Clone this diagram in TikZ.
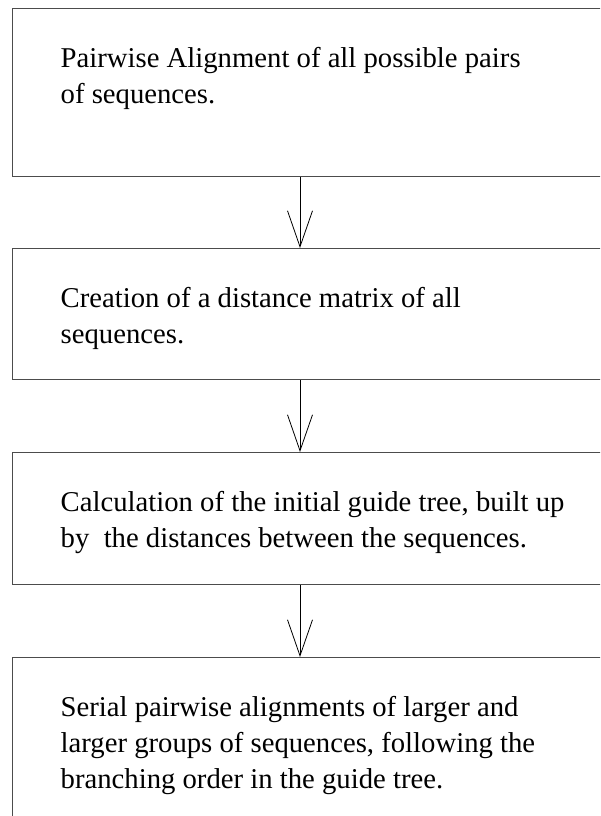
\documentclass[tikz,border=0pt]{standalone}
\usepackage{fontspec}
\setmainfont{Liberation Serif}
\usetikzlibrary{arrows.meta}
\begin{document}
\begin{tikzpicture}[x=1pt,y=1pt,
  stepbox/.style={draw=black!70, line width=1.3pt, rectangle, minimum width=640pt, anchor=north west, inner sep=0pt},
  steptext/.style={anchor=north west, inner sep=0pt, align=left, text width=530pt, font=\fontsize{28.7}{36}\selectfont,
    execute at begin node={\spaceskip=0pt\xspaceskip=0pt\relax}},
  arr/.style={line width=0.8pt, -{Straight Barb[length=36pt,width=25pt,line width=0.8pt]}}]
\useasboundingbox (0,0) rectangle (600,-816);
\clip (0,0) rectangle (600,-816);
\coordinate (ax) at (300,0);
\node[stepbox, minimum height=168pt] (b1) at (11.5,-8) {};
\node[stepbox, minimum height=131pt] (b2) at (11.5,-248) {};
\node[stepbox, minimum height=132pt] (b3) at (11.5,-452) {};
\node[stepbox, minimum height=220pt] (b4) at (11.5,-657) {};
\node[steptext] (t1) at (60.5,-47.4) {Pairwise Alignment of all possible pairs\\of sequences.};
\node[steptext] (t2) at (60.5,-287.4) {Creation of a distance matrix of all\\sequences.};
\node[steptext] (t3) at (60.5,-491.4) {Calculation of the initial guide tree, built up\\by\ \ the distances between the sequences.};
\node[steptext] (t4) at (60.5,-696.4) {Serial pairwise alignments of larger and\\larger groups of sequences, following the\\branching order in the guide tree.};
\draw[arr] (b1.south -| ax) -- (b2.north -| ax);
\draw[arr] (b2.south -| ax) -- (b3.north -| ax);
\draw[arr] (b3.south -| ax) -- (b4.north -| ax);
\end{tikzpicture}
\end{document}
